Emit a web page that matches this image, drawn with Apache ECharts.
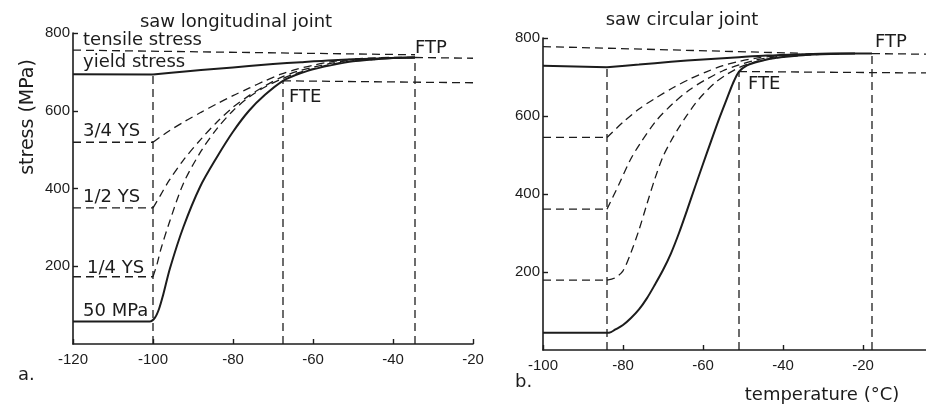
<!DOCTYPE html>
<html>
<head>
    <meta charset="utf-8">
    <title>stress - temperature</title>
    <script src="https://cdn.jsdelivr.net/npm/echarts@6/dist/echarts.min.js"></script>
    <style>
        html, body { margin: 0; background: #fff; }
        #chart { width: 926px; height: 404px; }
    </style>
</head>
<body>
<div id="chart"></div>
<script type="text/javascript">
    // a. saw longitudinal joint  [temperature, stress]
    var aYieldFlat = [[-120,694],[-100,693]];
    var aYield   = [[-100,693],[-92,701],[-84,708],[-76,715],[-70,720],[-63,725],[-55,730],[-45,734],[-34.5,737]];
    var aLevel34 = [[-120,519],[-100,519]];
    var a34      = [[-100,519],[-96,548],[-92,573],[-88,596],[-84,618],[-80,639],[-76,658],[-72,677],[-68,694],[-64,707],[-60,717],[-56,725],[-52,731],[-47,735],[-40,737],[-34.5,737]];
    var aLevel12 = [[-120,350],[-100,350]];
    var a12      = [[-100,350],[-98,385],[-96,420],[-92.4,473],[-88,527],[-84,571],[-80,609],[-76,639],[-72,664],[-68,686],[-64,701],[-60,712],[-56,721],[-52,728],[-47,733],[-40,736.5],[-34.5,737]];
    var aLevel14 = [[-120,173],[-100,173]];
    var a14      = [[-100,173],[-99,205],[-98,245],[-96,310],[-92.4,413],[-88,496],[-84,554],[-80,600],[-76,635],[-72,661],[-68,681],[-64,697],[-60,708],[-56,718],[-52,726],[-47,732],[-40,736],[-34.5,737]];
    var aFte     = [[-120,58],[-100.8,58],[-99.5,68],[-98.5,90],[-97.5,125],[-95.75,195],[-92.4,301],[-88.25,404],[-84,481],[-80,546],[-76,600],[-72,641],[-67.5,677],[-63,697],[-59,709],[-55,718],[-50,727],[-45,732],[-40,736],[-34.5,737]];
    var aTensile = [[-120,756],[-34.5,744]];
    var aFtp = [-34.5, 737];
    var aFtePt = [-67.5, 677];
    var aKnee = [-100, 693];

    // b. saw circular joint
    var bYieldFlat = [[-100,729],[-84,725]];
    var bYield   = [[-84,725],[-76,732],[-68,739],[-60,745],[-52,750],[-44,755],[-36,758],[-28,760],[-17.75,760]];
    var bLevel34 = [[-100,545],[-84,545]];
    var b34      = [[-84,545],[-80,584],[-76,618],[-72,645],[-67.4,673],[-63.25,695],[-59,714],[-55,729],[-51,740],[-47,748],[-43,753],[-38,757],[-32,759.5],[-26,760]];
    var bLevel12 = [[-100,361],[-84,361]];
    var b12      = [[-84,361],[-81,425],[-78.25,486],[-75.75,529],[-71.6,589],[-67.4,633],[-63.25,668],[-59,695],[-55,716],[-51,731],[-47,743],[-43,750],[-38,756],[-32,759],[-26,760]];
    var bLevel14 = [[-100,179],[-84,179]];
    var b14      = [[-84,179],[-82,185],[-80,203],[-78,250],[-76,308],[-74,375],[-72,440],[-70,496],[-68,536],[-66,571],[-64,602],[-62,631],[-60,655],[-57,685],[-54,707],[-51,724],[-47,739],[-43,747],[-38,753],[-32,757.5],[-26,760]];
    var bFte     = [[-100,44],[-84,44],[-83,46],[-82,52],[-80,64],[-78,82],[-76,104],[-74,133],[-72,168],[-70,205],[-68,248],[-66,300],[-64,358],[-62,418],[-60,477],[-58,535],[-56,592],[-54,645],[-52.5,684],[-51,714],[-49,730],[-47,737],[-44,745],[-40,751],[-35,756],[-28,759],[-22,760]];
    var bTensile = [[-100,778],[-36,761]];
    var bFtp = [-17.75, 760];
    var bFtePt = [-51, 714];
    var bKnee = [-84, 725];

    var xTicksA = [-120, -20, 20];
    var xTicksB = [-100, 0, 20];
    var yTicks = [0, 800, 200];

    var ink = '#1c1c1c';
    var font = 'DejaVu Sans';
    var numFont = 'Liberation Sans';
    var chart = echarts.init(document.getElementById('chart'));

    function line(data, g, dashed, smooth) {
        return {
            type: 'line', xAxisIndex: g, yAxisIndex: g, data: data,
            symbol: 'none', silent: true, animation: false,
            smooth: smooth ? 0.3 : false,
            lineStyle: { color: ink, width: dashed ? 1.3 : 2, type: dashed ? [8, 5] : 'solid' },
            z: dashed ? 2 : 3
        };
    }
    function vline(pt, g) { return line([[pt[0], 0], pt], g, true, false); }
    function hline(pt, xEnd, yEnd, g) { return line([pt, [xEnd, yEnd]], g, true, false); }

    function xAxis(g, ticks) {
        return {
            type: 'value', gridIndex: g, min: ticks[0], max: ticks[1], interval: ticks[2],
            axisLine: { onZero: false, lineStyle: { color: ink, width: 1.6 } },
            axisTick: { inside: true, length: 5, lineStyle: { color: ink, width: 1.4 } },
            axisLabel: { color: ink, fontFamily: numFont, fontSize: 15, margin: 8 },
            splitLine: { show: false }
        };
    }
    function yAxis(g) {
        return {
            type: 'value', gridIndex: g, min: yTicks[0], max: yTicks[1], interval: yTicks[2],
            axisLine: { onZero: false, lineStyle: { color: ink, width: 1.6 } },
            axisTick: { inside: true, length: 5, lineStyle: { color: ink, width: 1.4 } },
            axisLabel: { color: ink, fontFamily: numFont, fontSize: 15, margin: 3, showMinLabel: false },
            splitLine: { show: false }
        };
    }
    function txt(s, x, y, size, align, rot) {
        return {
            type: 'text', x: x, y: y, rotation: rot || 0, silent: true,
            style: { text: s, fill: ink, font: (size || 15) + 'px "' + font + '"',
                     textAlign: align || 'left', textVerticalAlign: 'middle', verticalAlign: 'middle' }
        };
    }

    chart.setOption({
        backgroundColor: '#ffffff',
        animation: false,
        grid: [
            { left: 73, top: 33, width: 400, height: 311, outerBoundsMode: 'none' },
            { left: 543, top: 38, width: 400, height: 312, outerBoundsMode: 'none' }
        ],
        xAxis: [xAxis(0, xTicksA), xAxis(1, xTicksB)],
        yAxis: [yAxis(0), yAxis(1)],
        series: [
            // a
            line(aTensile, 0, true, false),
            line(aYieldFlat, 0, false, false), line(aYield, 0, false, true),
            line(aLevel34, 0, true, false), line(a34, 0, true, true),
            line(aLevel12, 0, true, false), line(a12, 0, true, true),
            line(aLevel14, 0, true, false), line(a14, 0, true, true),
            line(aFte, 0, false, true),
            vline(aKnee, 0), vline(aFtePt, 0), vline(aFtp, 0),
            hline(aFtePt, -20, 672, 0), hline(aFtp, -20, 735, 0),
            // b
            line(bTensile, 1, true, false),
            line(bYieldFlat, 1, false, false), line(bYield, 1, false, true),
            line(bLevel34, 1, true, false), line(b34, 1, true, true),
            line(bLevel12, 1, true, false), line(b12, 1, true, true),
            line(bLevel14, 1, true, false), line(b14, 1, true, true),
            line(bFte, 1, false, true),
            vline(bKnee, 1), vline(bFtePt, 1), vline(bFtp, 1),
            hline(bFtePt, 0, 710, 1), hline(bFtp, 0, 758, 1)
        ],
        graphic: [
            txt('saw longitudinal joint', 236, 22, 18, 'center'),
            txt('tensile stress', 83, 40, 18),
            txt('yield stress', 83, 62, 18),
            txt('3/4 YS', 83, 131, 18),
            txt('1/2 YS', 83, 197, 18),
            txt('1/4 YS', 87, 268, 18),
            txt('50 MPa', 83, 311, 18),
            txt('FTP', 415, 48, 18),
            txt('FTE', 289, 97, 18),
            txt('a.', 18, 375, 18),
            txt('stress (MPa)', 28, 117, 19, 'center', Math.PI / 2),
            txt('saw circular joint', 682, 20, 18, 'center'),
            txt('FTP', 875, 42, 18),
            txt('FTE', 748, 84, 18),
            txt('b.', 515, 382, 18),
            txt('temperature (°C)', 822, 395, 18, 'center')
        ]
    });
</script>
</body>
</html>
